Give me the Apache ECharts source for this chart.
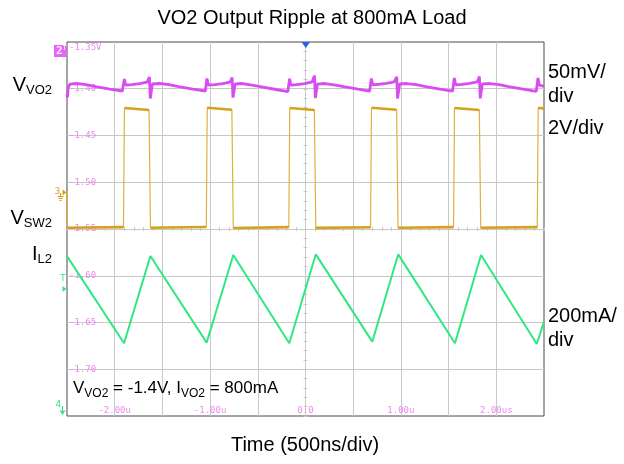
<!DOCTYPE html>
<html><head><meta charset="utf-8">
<script src="https://cdn.jsdelivr.net/npm/echarts@6/dist/echarts.min.js"></script>
<style>html,body{margin:0;padding:0;background:#fff}#c{width:624px;height:464px}</style>
</head><body><div id="c"></div>
<script>
// ---- tick labels ----
const tLabelValues = [-2, -1, 0, 1, 2];
const tLabelTexts = ['-2.00u', '-1.00u', '0.0', '1.00u', '2.00us'];
const vLabelValues = [-1.35, -1.40, -1.45, -1.50, -1.55, -1.60, -1.65, -1.70];
const vLabelTexts = ['-1.35V', '-1.40', '-1.45', '-1.50', '-1.55', '-1.60', '-1.65', '-1.70'];

// ---- traces: [time (us), screen value on the CH2 volt scale] ----
const vo2Ripple = [
  [-2.500, -1.4060], [-2.495, -1.4090], [-2.488, -1.3990], [-2.470, -1.3950], [-2.400, -1.3944], [-2.300, -1.3955], [-2.200, -1.3976], [-2.050, -1.4003], [-1.920, -1.4024],
  [-1.904, -1.4028], [-1.899, -1.3896], [-1.885, -1.3960], [-1.820, -1.3955], [-1.740, -1.3944], [-1.660, -1.3928],
  [-1.645, -1.3922], [-1.636, -1.3874], [-1.627, -1.4104], [-1.605, -1.3949], [-1.530, -1.3944], [-1.430, -1.3955], [-1.330, -1.3976], [-1.180, -1.4003], [-1.050, -1.4024],
  [-1.038, -1.4028], [-1.033, -1.3890], [-1.019, -1.3960], [-0.950, -1.3955], [-0.870, -1.3944], [-0.790, -1.3928],
  [-0.778, -1.3922], [-0.769, -1.3880], [-0.760, -1.4095], [-0.738, -1.3949], [-0.660, -1.3944], [-0.560, -1.3960], [-0.460, -1.3980], [-0.310, -1.4008], [-0.185, -1.4030],
  [-0.172, -1.4035], [-0.167, -1.3893], [-0.153, -1.3962], [-0.090, -1.3955], [-0.010, -1.3944], [0.070, -1.3926],
  [0.085, -1.3920], [0.094, -1.3860], [0.103, -1.4100], [0.125, -1.3950], [0.200, -1.3944], [0.300, -1.3958], [0.400, -1.3978], [0.550, -1.4005], [0.672, -1.4026],
  [0.685, -1.4030], [0.690, -1.3890], [0.704, -1.3958], [0.770, -1.3952], [0.850, -1.3942], [0.930, -1.3926],
  [0.947, -1.3920], [0.956, -1.3872], [0.965, -1.4105], [0.987, -1.3948], [1.060, -1.3944], [1.160, -1.3957], [1.260, -1.3977], [1.410, -1.4004], [1.542, -1.4026],
  [1.555, -1.4030], [1.560, -1.3885], [1.574, -1.3958], [1.640, -1.3953], [1.720, -1.3943], [1.800, -1.3927],
  [1.814, -1.3921], [1.823, -1.3870], [1.832, -1.4103], [1.854, -1.3948], [1.930, -1.3944], [2.030, -1.3957], [2.130, -1.3978], [2.280, -1.4005], [2.419, -1.4027],
  [2.432, -1.4030], [2.437, -1.3885], [2.451, -1.3962], [2.500, -1.3975]
];
const sw2Trace = [
  [-2.500, -1.5094], [-2.496, -1.5486], [-1.908, -1.5480], [-1.898, -1.4206], [-1.640, -1.4227],
  [-1.625, -1.5486], [-1.040, -1.5478], [-1.030, -1.4204], [-0.772, -1.4225],
  [-0.757, -1.5490], [-0.175, -1.5480], [-0.165, -1.4206], [0.093, -1.4227],
  [0.108, -1.5488], [0.682, -1.5482], [0.692, -1.4204], [0.955, -1.4225],
  [0.970, -1.5486], [1.552, -1.5480], [1.562, -1.4206], [1.822, -1.4227],
  [1.837, -1.5486], [2.429, -1.5480], [2.439, -1.4206], [2.500, -1.4210]
];
const il2Trace = [
  [-2.500, -1.5790], [-2.488, -1.5775], [-1.902, -1.6722], [-1.626, -1.5789], [-1.036, -1.6715],
  [-0.757, -1.5778], [-0.170, -1.6722], [0.108, -1.5771], [0.700, -1.6705], [0.972, -1.5771],
  [1.567, -1.6722], [1.840, -1.5778], [2.424, -1.6730], [2.500, -1.6491]
];

function lookup(vals, texts, v) {
  for (let i = 0; i < vals.length; i++) if (Math.abs(vals[i] - v) < 1e-6) return texts[i];
  return '';
}
// plateau segments of the switch node (drawn thicker, like the noisy band)
const sw2Plateaus = [];
for (let i = 0; i < sw2Trace.length - 1; i++) {
  const a = sw2Trace[i], b = sw2Trace[i + 1];
  if (Math.abs(a[1] - b[1]) < 0.01) { sw2Plateaus.push(a, b, [(a[0] + b[0]) / 2 + 0.0001, null]); }
}

const GRID = {left: 67, top: 42, width: 477, height: 374};
const scopeFont = {fontFamily: 'DejaVu Sans Mono', fontSize: 9, color: '#ee88ee'};
const gridLine = '#c8c8c8';

function centerX(gi, inside) {
  return {gridIndex: gi, type: 'value', min: -2.5, max: 2.5, interval: 0.5,
    axisLine: {show: true, onZero: true, lineStyle: {color: gridLine, width: 1}},
    axisTick: {show: true, inside: inside, length: 2, lineStyle: {color: gridLine}},
    minorTick: {show: true, splitNumber: 5, length: 2, lineStyle: {color: gridLine}},
    axisLabel: {show: false}, splitLine: {show: false}};
}
function centerY(gi, inside) {
  return {gridIndex: gi, type: 'value', min: -4, max: 4, interval: 1,
    axisLine: {show: true, onZero: true, lineStyle: {color: gridLine, width: 1}},
    axisTick: {show: true, inside: inside, length: 2, lineStyle: {color: gridLine}},
    minorTick: {show: true, splitNumber: 5, length: 2, lineStyle: {color: gridLine}},
    axisLabel: {show: false}, splitLine: {show: false}};
}

const sideFont = 'Liberation Sans';
function richLabel(main, sub, size, subSize, lh, subLh) {
  return {
    text: '{m|' + main + '}{s|' + sub + '}',
    rich: {
      m: {fontSize: size, fontFamily: sideFont, fill: '#000', lineHeight: lh, verticalAlign: 'middle'},
      s: {fontSize: subSize, fontFamily: sideFont, fill: '#000', lineHeight: subLh, verticalAlign: 'bottom'}
    }
  };
}
const bigFont = '20px "Liberation Sans"';

const chart = echarts.init(document.getElementById('c'), null, {renderer: 'canvas'});
chart.setOption({
  animation: false,
  backgroundColor: '#ffffff',
  grid: [
    Object.assign({show: true, borderColor: '#4a4a4a', borderWidth: 1, backgroundColor: 'transparent'}, GRID),
    Object.assign({}, GRID),
    Object.assign({}, GRID)
  ],
  xAxis: [
    {gridIndex: 0, type: 'value', min: -2.5, max: 2.5, interval: 0.5, position: 'bottom',
      axisLine: {show: false}, axisTick: {show: false},
      splitLine: {show: true, showMinLine: false, showMaxLine: false, lineStyle: {color: gridLine, width: 1}},
      axisLabel: Object.assign({inside: true, margin: 0, lineHeight: 10,
        formatter: v => lookup(tLabelValues, tLabelTexts, v)}, scopeFont)},
    centerX(1, true), centerX(2, false)
  ],
  yAxis: [
    {gridIndex: 0, type: 'value', min: -1.75, max: -1.35, interval: 0.05, position: 'left',
      axisLine: {show: false}, axisTick: {show: false},
      splitLine: {show: true, showMinLine: false, showMaxLine: false, lineStyle: {color: gridLine, width: 1}},
      axisLabel: Object.assign({inside: true, margin: 2, verticalAlign: 'middle', padding: [0, 0, 7, 0],
        formatter: v => Math.abs(v + 1.35) < 1e-6 ? '' : lookup(vLabelValues, vLabelTexts, v)}, scopeFont)},
    {gridIndex: 0, type: 'value', min: -1.75, max: -1.35, interval: 0.05, position: 'left',
      axisLine: {show: false}, axisTick: {show: false}, splitLine: {show: false},
      axisLabel: Object.assign({inside: true, margin: 2, verticalAlign: 'top', padding: [1, 0, 0, 0],
        formatter: v => Math.abs(v + 1.35) < 1e-6 ? lookup(vLabelValues, vLabelTexts, v) : ''}, scopeFont)},
    centerY(1, true), centerY(2, false)
  ],
  series: [
    {type: 'line', name: 'IL2', xAxisIndex: 0, yAxisIndex: 0, data: il2Trace, showSymbol: false, symbol: 'none',
      lineStyle: {color: '#2fe882', width: 2}, z: 3},
    {type: 'line', name: 'SW2', xAxisIndex: 0, yAxisIndex: 0, data: sw2Trace, showSymbol: false, symbol: 'none',
      lineStyle: {color: '#e0b040', width: 1.2}, z: 3},
    {type: 'line', name: 'SW2 band', xAxisIndex: 0, yAxisIndex: 0, data: sw2Plateaus, showSymbol: false, symbol: 'none',
      connectNulls: false, lineStyle: {color: '#d6a11c', width: 2.6}, z: 4},
    {type: 'line', name: 'VO2', xAxisIndex: 0, yAxisIndex: 0, data: vo2Ripple, showSymbol: false, symbol: 'none',
      lineStyle: {color: '#d84cf2', width: 2.8, join: 'bevel'}, z: 5}
  ],
  graphic: [
    {type: 'text', x: 312, y: 18, z: 100, style: {text: 'VO2 Output Ripple at 800mA Load', font: bigFont, fill: '#000', align: 'center', verticalAlign: 'middle'}},
    {type: 'text', x: 305, y: 445, z: 100, style: {text: 'Time (500ns/div)', font: bigFont, fill: '#000', align: 'center', verticalAlign: 'middle'}},
    {type: 'text', right: 572, top: 75, z: 100, style: richLabel('V', 'VO2', 20, 13, 24, 14)},
    {type: 'text', right: 572, top: 208, z: 100, style: richLabel('V', 'SW2', 20, 13, 24, 14)},
    {type: 'text', right: 572, top: 244, z: 100, style: richLabel('I', 'L2', 20, 13, 24, 14)},
    {type: 'text', x: 548, y: 72, z: 100, style: {text: '50mV/', font: bigFont, fill: '#000', verticalAlign: 'middle'}},
    {type: 'text', x: 548, y: 96, z: 100, style: {text: 'div', font: bigFont, fill: '#000', verticalAlign: 'middle'}},
    {type: 'text', x: 548, y: 128, z: 100, style: {text: '2V/div', font: bigFont, fill: '#000', verticalAlign: 'middle'}},
    {type: 'text', x: 548, y: 316, z: 100, style: {text: '200mA/', font: bigFont, fill: '#000', verticalAlign: 'middle'}},
    {type: 'text', x: 548, y: 340, z: 100, style: {text: 'div', font: bigFont, fill: '#000', verticalAlign: 'middle'}},
    {type: 'text', left: 73, top: 380, z: 100, style: {
      text: '{m|V}{s|VO2}{m| = -1.4V, I}{s|VO2}{m| = 800mA}',
      rich: {
        m: {fontSize: 17, fontFamily: sideFont, fill: '#000', lineHeight: 22, verticalAlign: 'middle'},
        s: {fontSize: 12, fontFamily: sideFont, fill: '#000', lineHeight: 13, verticalAlign: 'bottom'}
      }}},
    // channel 2 marker
    {type: 'rect', z: 100, shape: {x: 54, y: 45, width: 13, height: 12}, style: {fill: '#e466f4'}},
    {type: 'text', z: 101, x: 56, y: 51, style: {text: '2', font: 'bold 11px "DejaVu Sans Mono"', fill: '#ffe6ff', verticalAlign: 'middle'}},
    {type: 'text', z: 101, x: 62.5, y: 48, style: {text: 'T', font: '7px "DejaVu Sans"', fill: '#ffffff', verticalAlign: 'middle'}},
    // trigger position
    {type: 'polygon', z: 100, shape: {points: [[301.5, 42], [310, 42], [305.8, 48]]}, style: {fill: '#2266dd'}},
    // channel 3 ground marker
    {type: 'text', z: 100, x: 54.5, y: 192, style: {text: '3', font: '9px "DejaVu Sans"', fill: '#d4a020', verticalAlign: 'middle'}},
    {type: 'polygon', z: 100, shape: {points: [[62.5, 189.5], [62.5, 195.5], [66.5, 192.5]]}, style: {fill: '#d4a020'}},
    {type: 'polyline', z: 100, shape: {points: [[60.5, 193], [60.5, 196.5]]}, style: {stroke: '#d4a020', lineWidth: 1}},
    {type: 'polyline', z: 100, shape: {points: [[57.5, 196.5], [63.5, 196.5]]}, style: {stroke: '#d4a020', lineWidth: 1}},
    {type: 'polyline', z: 100, shape: {points: [[58.5, 198.5], [62.5, 198.5]]}, style: {stroke: '#d4a020', lineWidth: 1}},
    {type: 'polyline', z: 100, shape: {points: [[59.5, 200.5], [61.5, 200.5]]}, style: {stroke: '#d4a020', lineWidth: 1}},
    // trigger level marker (green)
    {type: 'text', z: 100, x: 60.5, y: 279, style: {text: 'T', font: '8px "DejaVu Sans"', fill: '#2fe882', verticalAlign: 'middle'}},
    {type: 'polygon', z: 100, shape: {points: [[62.5, 286], [62.5, 292], [66.5, 289]]}, style: {fill: '#2fe882'}},
    // channel 4 marker
    {type: 'text', z: 100, x: 55.5, y: 405, style: {text: '4', font: '9px "DejaVu Sans"', fill: '#2fe882', verticalAlign: 'middle'}},
    {type: 'polygon', z: 100, shape: {points: [[59.5, 410.5], [65.5, 410.5], [62.5, 415]]}, style: {fill: '#2fe882'}},
    {type: 'polyline', z: 100, shape: {points: [[62.5, 406], [62.5, 411]]}, style: {stroke: '#2fe882', lineWidth: 1}}
  ]
});
</script></body></html>
